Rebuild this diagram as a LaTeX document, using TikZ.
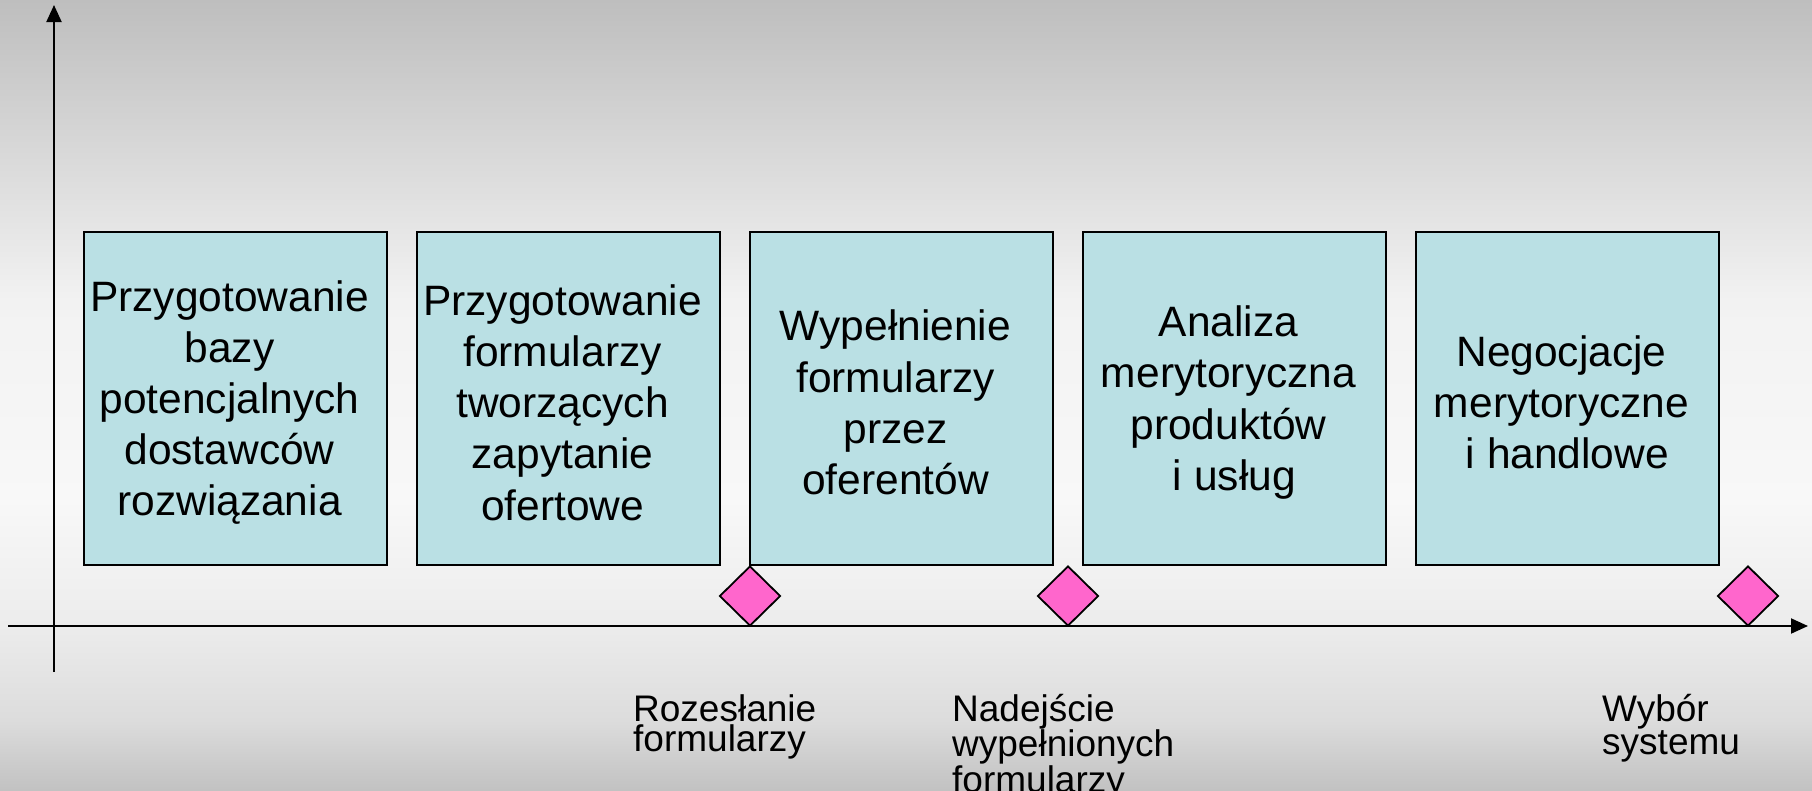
\documentclass[tikz,border=0pt]{standalone}
\usepackage{fontspec}
\setmainfont{Liberation Sans}
\usetikzlibrary{arrows.meta,shapes.geometric}

% palette
\definecolor{bgTop}{HTML}{BEBEBE}
\definecolor{bgMid}{HTML}{F2F2F2}
\definecolor{bgLight}{HTML}{F8F8F8}
\definecolor{bgAxis}{HTML}{ECECEC}
\definecolor{bgLow}{HTML}{DCDCDC}
\definecolor{bgBottom}{HTML}{C2C2C2}
\definecolor{stepfill}{HTML}{BAE0E4}
\definecolor{milefill}{HTML}{FF66CC}

% page background: grey at the edges, almost white around the boxes
\pgfdeclareverticalshading{pagebg}{100bp}{%
  color(0bp)=(bgBottom); color(25bp)=(bgBottom); color(29.4bp)=(bgLow);
  color(35.4bp)=(bgAxis); color(43.4bp)=(bgLight); color(56bp)=(bgMid);
  color(75bp)=(bgTop); color(100bp)=(bgTop)}

\tikzset{
  axisline/.style={line width=2pt, draw=black, -{Triangle[length=17pt,width=15pt]}},
  stepbox/.style={draw=black, line width=1.8pt, fill=stepfill, rectangle,
    minimum width=303pt, minimum height=333pt, inner sep=0pt},
  steptext/.style={align=center, inner sep=0pt, text=black,
    font=\fontsize{42.5}{51.2}\selectfont},
  milestone/.style={diamond, draw=black, line width=1.8pt, fill=milefill,
    minimum width=61pt, minimum height=60pt, inner sep=0pt},
  milelabel/.style={align=left, inner sep=0pt, anchor=north west, text=black,
    font=\fontsize{37}{30.5}\selectfont},
}

\begin{document}
\begin{tikzpicture}[x=1pt, y=-1pt]
  \shade[shading=pagebg] (0,0) rectangle (1812,790);
  \useasboundingbox (0,0) rectangle (1812,790);

  % axes
  \coordinate (ybot) at (54,672);
  \coordinate (ytop) at (54,5);
  \coordinate (xleft) at (8,626);
  \coordinate (xright) at (1808,626);
  \draw[axisline] (ybot) -- (ytop);
  \draw[axisline] (xleft) -- (xright);

  % phases
  \node[stepbox] (b1) at (235.5,398.5) {};
  \node[stepbox] (b2) at (568.5,398.5) {};
  \node[stepbox] (b3) at (901.5,398.5) {};
  \node[stepbox] (b4) at (1234.5,398.5) {};
  \node[stepbox] (b5) at (1567.5,398.5) {};

  \node[steptext] (t1) at ([xshift=-6pt,yshift=-4pt]b1.center)
    {Przygotowanie\\bazy\\potencjalnych\\dostawców\\rozwiązania};
  \node[steptext] (t2) at ([xshift=-6pt,yshift=-4pt]b2.center)
    {Przygotowanie\\formularzy\\tworzących\\zapytanie\\ofertowe};
  \node[steptext] (t3) at ([xshift=-6pt,yshift=-4pt]b3.center)
    {Wypełnienie\\formularzy\\przez\\oferentów};
  \node[steptext] (t4) at ([xshift=-6pt,yshift=-4pt]b4.center)
    {Analiza\\merytoryczna\\produktów\\\hspace*{0.278em}i usług};
  \node[steptext] (t5) at ([xshift=-6pt,yshift=-4pt]b5.center)
    {Negocjacje\\merytoryczne\\\hspace*{0.278em}i handlowe};

  % milestones on the time axis
  \node[milestone] (m1) at (750,596) {};
  \node[milestone] (m2) at (1068,596) {};
  \node[milestone] (m3) at (1748,596) {};

  \node[milelabel] (l1) at (633,694) {Rozesłanie\\formularzy};
  \node[milelabel] (l2) at (952,694) {Nadejście\\wypełnionych\\formularzy};
  \node[milelabel] (l3) at (1602,694) {Wybór\\systemu};
\end{tikzpicture}
\end{document}
